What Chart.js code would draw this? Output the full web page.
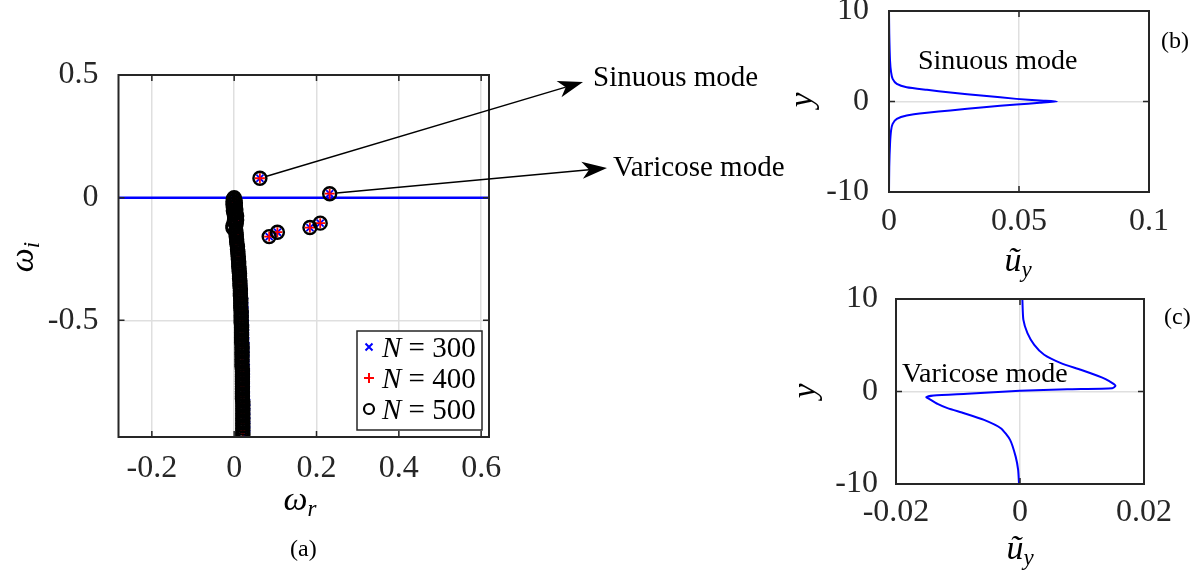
<!DOCTYPE html>
<html>
<head>
<meta charset="utf-8">
<script src="https://cdn.jsdelivr.net/npm/chart.js@4.4.1/dist/chart.umd.min.js"></script>
<style>
  html, body { margin: 0; padding: 0; background: #fff; }
  #wrap { position: relative; width: 1196px; height: 575px; overflow: hidden; }
  canvas { position: absolute; }
</style>
</head>
<body>
<div id="wrap">
  <canvas id="spectrum" width="790" height="575" style="left:0;top:0"></canvas>
  <canvas id="sinuous" width="406" height="285" style="left:790px;top:0"></canvas>
  <canvas id="varicose" width="406" height="290" style="left:790px;top:285px"></canvas>
</div>
<script>
const SERIF = "'Liberation Serif', 'Times New Roman', serif";
const INK = '#262626';
const GRID = '#dfdfdf';

// discrete modes, identical for all three resolutions (sinuous, varicose, then the rest)
const modeWr = [0.0625, 0.232, 0.085, 0.105, 0.184, 0.209];
const modeWi = [0.079, 0.016, -0.159, -0.141, -0.122, -0.104];

// continuous branch [wr, wi]
const branch500 = [
  [0.000, 0.000], [-0.002, -0.005], [0.002, -0.010], [-0.003, -0.016], [0.003, -0.022], [-0.003, -0.028],
  [0.003, -0.034], [-0.002, -0.040], [0.004, -0.047], [-0.002, -0.054], [0.004, -0.061], [0.000, -0.068],
  [0.006, -0.075], [0.001, -0.083], [0.006, -0.091], [0.000, -0.099], [0.005, -0.107], [-0.003, -0.115],
  [-0.003, -0.124], [0.004, -0.133], [0.004, -0.142], [0.005, -0.151], [0.005, -0.160], [0.006, -0.170],
  [0.006, -0.180], [0.007, -0.190], [0.008, -0.200], [0.008, -0.210], [0.009, -0.220], [0.009, -0.230],
  [0.010, -0.240], [0.010, -0.250], [0.011, -0.260], [0.011, -0.270], [0.011, -0.280], [0.012, -0.290],
  [0.012, -0.300], [0.013, -0.310], [0.013, -0.320], [0.013, -0.330], [0.014, -0.340], [0.014, -0.350],
  [0.014, -0.360], [0.015, -0.370], [0.015, -0.380], [0.015, -0.390], [0.015, -0.400], [0.016, -0.410],
  [0.016, -0.420], [0.016, -0.430], [0.016, -0.440], [0.016, -0.450], [0.017, -0.460], [0.017, -0.470],
  [0.017, -0.480], [0.017, -0.490], [0.017, -0.500], [0.017, -0.510], [0.018, -0.520], [0.018, -0.530],
  [0.018, -0.540], [0.018, -0.550], [0.018, -0.560], [0.018, -0.570], [0.018, -0.580], [0.018, -0.590],
  [0.019, -0.600], [0.019, -0.610], [0.019, -0.620], [0.019, -0.630], [0.019, -0.640], [0.019, -0.650],
  [0.019, -0.660], [0.019, -0.670], [0.019, -0.680], [0.019, -0.690], [0.020, -0.700], [0.020, -0.710],
  [0.020, -0.720], [0.020, -0.730], [0.020, -0.740], [0.020, -0.750], [0.020, -0.760], [0.020, -0.770],
  [0.020, -0.780], [0.020, -0.790], [0.020, -0.800], [0.020, -0.810], [0.020, -0.820], [0.021, -0.830],
  [0.021, -0.840], [0.021, -0.850], [0.021, -0.860], [0.021, -0.870], [0.021, -0.880], [0.021, -0.890],
  [0.021, -0.900], [0.021, -0.910], [0.021, -0.920], [0.021, -0.930], [0.021, -0.940], [0.021, -0.950],
  [0.021, -0.960], [0.021, -0.968]
];
const branch400 = [
  [0.000, -0.002], [-0.002, -0.012], [0.002, -0.024], [-0.002, -0.036], [0.003, -0.048], [0.000, -0.060],
  [0.005, -0.072], [0.001, -0.084], [0.005, -0.096], [-0.002, -0.110], [0.003, -0.124], [0.004, -0.138],
  [0.005, -0.152], [0.006, -0.166], [0.006, -0.180], [0.007, -0.194], [0.008, -0.208], [0.009, -0.222],
  [0.010, -0.236], [0.010, -0.250], [0.011, -0.264], [0.011, -0.278], [0.012, -0.292], [0.012, -0.306],
  [0.013, -0.320], [0.013, -0.334], [0.014, -0.348], [0.014, -0.362], [0.015, -0.376], [0.015, -0.390],
  [0.015, -0.404], [0.016, -0.418], [0.016, -0.432], [0.016, -0.446], [0.017, -0.460], [0.017, -0.474],
  [0.017, -0.488], [0.017, -0.502], [0.018, -0.516], [0.018, -0.530], [0.018, -0.544], [0.018, -0.558],
  [0.018, -0.572], [0.018, -0.586], [0.019, -0.600], [0.019, -0.614], [0.019, -0.628], [0.019, -0.642],
  [0.019, -0.656], [0.019, -0.670], [0.019, -0.684], [0.020, -0.698], [0.020, -0.712], [0.020, -0.726],
  [0.020, -0.740], [0.020, -0.754], [0.020, -0.768], [0.020, -0.782], [0.020, -0.796], [0.020, -0.810],
  [0.021, -0.824], [0.021, -0.838], [0.021, -0.852], [0.021, -0.866], [0.021, -0.880], [0.021, -0.894],
  [0.021, -0.908], [0.021, -0.922], [0.021, -0.936], [0.021, -0.950], [0.021, -0.964]
];
const branch300 = [
  [0.000, -0.003], [0.002, -0.018], [0.000, -0.034], [0.004, -0.050], [0.003, -0.066], [0.006, -0.082],
  [0.004, -0.098], [0.004, -0.116], [0.006, -0.134], [0.007, -0.152], [0.008, -0.170], [0.009, -0.188],
  [0.011, -0.206], [0.012, -0.224], [0.014, -0.242], [0.015, -0.260], [0.017, -0.278], [0.018, -0.296],
  [0.020, -0.314], [0.021, -0.332], [0.022, -0.350], [0.023, -0.368], [0.024, -0.386], [0.024, -0.404],
  [0.025, -0.422], [0.025, -0.440], [0.026, -0.458], [0.026, -0.476], [0.026, -0.494], [0.027, -0.512],
  [0.027, -0.530], [0.027, -0.548], [0.027, -0.566], [0.028, -0.584], [0.028, -0.602], [0.028, -0.620],
  [0.028, -0.638], [0.028, -0.656], [0.028, -0.674], [0.029, -0.692], [0.029, -0.710], [0.029, -0.728],
  [0.029, -0.746], [0.029, -0.764], [0.029, -0.782], [0.029, -0.800], [0.029, -0.818], [0.030, -0.836],
  [0.030, -0.854], [0.030, -0.872], [0.030, -0.890], [0.030, -0.908], [0.030, -0.926], [0.030, -0.944],
  [0.030, -0.962]
];

const wrRange = [-0.281, 0.619];
const wiRange = [-0.976, 0.5];
const wrTicks = [-0.2, 0, 0.2, 0.4, 0.6];
const wrTickLabels = ['-0.2', '0', '0.2', '0.4', '0.6'];
const wiTicks = [-0.5, 0, 0.5];
const wiTickLabels = ['-0.5', '0', '0.5'];

// eigenfunction of the sinuous mode
const ySin = [10, 7.5, 4.5, 3.24, 2.5, 1.95, 1.58, 1.29, 0.99, 0.63, 0.29, 0.11, 0,
  -0.15, -0.33, -0.63, -0.99, -1.25, -1.55, -1.92, -2.47, -3.2, -4.68, -7.26, -10];
const uSin = [0, 0.0001, 0.0004, 0.0008, 0.0014, 0.003, 0.0068, 0.0146, 0.0236, 0.0365, 0.049, 0.058, 0.0646,
  0.058, 0.049, 0.0365, 0.0236, 0.0146, 0.0068, 0.003, 0.0014, 0.0008, 0.0004, 0.0001, 0];
const uSinRange = [0, 0.1];
const uSinTicks = [0, 0.05, 0.1];
const uSinTickLabels = ['0', '0.05', '0.1'];

// eigenfunction of the varicose mode
const yVar = [10, 7.76, 6.32, 5.05, 3.97, 3.07, 2.35, 1.7, 1.34, 0.9, 0.61, 0.36, 0.25, 0.07,
  -0.25, -0.43, -0.61, -0.9, -1.34, -1.8, -2.35, -3.07, -3.97, -5.23, -7.04, -8.48, -10];
const uVar = [0.00038, 0.00054, 0.0012, 0.0023, 0.0039, 0.0066, 0.0098, 0.0125, 0.0138, 0.0149, 0.0154, 0.0149, 0.0076, 0,
  -0.0085, -0.0139, -0.0151, -0.0144, -0.0133, -0.0117, -0.009, -0.0058, -0.0031, -0.0016, -0.0007, -0.0003, -0.00016];
const uVarRange = [-0.02, 0.02];
const uVarTicks = [-0.02, 0, 0.02];
const uVarTickLabels = ['-0.02', '0', '0.02'];

const yRange = [-10, 10];
const yTicks = [-10, 0, 10];
const yTickLabels = ['-10', '0', '10'];

const pts = (xs, ys) => xs.map((x, i) => ({ x, y: ys[i] }));
const pairs = arr => arr.map(p => ({ x: p[0], y: p[1] }));

function axis(range, ticks, labels, size, pad) {
  return {
    type: 'linear',
    min: range[0],
    max: range[1],
    afterBuildTicks: s => { s.ticks = ticks.map(v => ({ value: v })); },
    afterFit: s => {
      Object.assign(s, size);
      s.paddingLeft = s.paddingRight = s.paddingTop = s.paddingBottom = 0;
    },
    ticks: {
      autoSkip: false, maxRotation: 0, padding: pad,
      color: INK, font: { family: SERIF, size: 32 },
      callback: (v, i) => labels[i]
    },
    grid: { color: GRID, lineWidth: 1.5, drawTicks: false },
    border: { display: false }
  };
}

function font(size, italic) {
  return (italic ? 'italic ' : '') + size + 'px ' + SERIF;
}

// parts: [text, size, italic, dy]
function rich(ctx, parts, x, y, align) {
  let w = 0;
  parts.forEach(p => { ctx.font = font(p[1], p[2]); w += ctx.measureText(p[0]).width; });
  let cx = align === 'center' ? x - w / 2 : x;
  ctx.textBaseline = 'alphabetic';
  ctx.textAlign = 'left';
  parts.forEach(p => {
    ctx.font = font(p[1], p[2]);
    ctx.fillText(p[0], cx, y + (p[3] || 0));
    cx += ctx.measureText(p[0]).width;
  });
}

function rotated(ctx, parts, x, y) {
  ctx.save();
  ctx.translate(x, y);
  ctx.rotate(-Math.PI / 2);
  rich(ctx, parts, 0, 0, 'center');
  ctx.restore();
}

function plainText(ctx, text, size, x, y) {
  ctx.font = font(size, false);
  ctx.textAlign = 'left';
  ctx.textBaseline = 'middle';
  ctx.fillText(text, x, y);
}

function arrow(ctx, x0, y0, x1, y1) {
  const a = Math.atan2(y1 - y0, x1 - x0);
  const c = Math.cos(a), s = Math.sin(a);
  const len = 25, half = 8.5, notch = 18;
  const sx = x0 + 7 * c, sy = y0 + 7 * s;
  ctx.beginPath();
  ctx.moveTo(sx, sy);
  ctx.lineTo(x1 - notch * c, y1 - notch * s);
  ctx.lineWidth = 1.5;
  ctx.stroke();
  ctx.beginPath();
  ctx.moveTo(x1, y1);
  ctx.lineTo(x1 - len * c - half * s, y1 - len * s + half * c);
  ctx.lineTo(x1 - notch * c, y1 - notch * s);
  ctx.lineTo(x1 - len * c + half * s, y1 - len * s - half * c);
  ctx.closePath();
  ctx.fill();
}

// MATLAB-style box with inward ticks
const axesBox = {
  id: 'axesBox',
  afterDraw(chart) {
    const { ctx, chartArea: a } = chart;
    const { x, y } = chart.scales;
    ctx.save();
    ctx.strokeStyle = INK;
    ctx.lineWidth = 1.5;
    ctx.beginPath();
    x.ticks.forEach(t => {
      const px = x.getPixelForValue(t.value);
      ctx.moveTo(px, a.bottom); ctx.lineTo(px, a.bottom - 6);
      ctx.moveTo(px, a.top); ctx.lineTo(px, a.top + 6);
    });
    y.ticks.forEach(t => {
      const py = y.getPixelForValue(t.value);
      ctx.moveTo(a.left, py); ctx.lineTo(a.left + 6, py);
      ctx.moveTo(a.right, py); ctx.lineTo(a.right - 6, py);
    });
    ctx.stroke();
    ctx.lineWidth = 2;
    ctx.strokeRect(a.left, a.top, a.right - a.left, a.bottom - a.top);
    ctx.restore();
  }
};

const spectrumLabels = {
  id: 'spectrumLabels',
  afterDraw(chart) {
    const { ctx } = chart;
    const { x, y } = chart.scales;
    ctx.save();
    ctx.fillStyle = '#000';
    ctx.strokeStyle = '#000';

    // arrows from the two unstable modes to their names
    arrow(ctx, x.getPixelForValue(modeWr[0]), y.getPixelForValue(modeWi[0]), 583, 82);
    arrow(ctx, x.getPixelForValue(modeWr[1]), y.getPixelForValue(modeWi[1]), 607, 168);
    plainText(ctx, 'Sinuous mode', 29, 593, 78);
    plainText(ctx, 'Varicose mode', 29, 613, 168);

    // legend
    const lx = 357, ly = 331, lw = 125, lh = 99;
    ctx.fillStyle = '#fff';
    ctx.fillRect(lx, ly, lw, lh);
    ctx.strokeStyle = INK;
    ctx.lineWidth = 1.5;
    ctx.strokeRect(lx, ly, lw, lh);
    const rows = [347, 378, 409];
    ctx.lineWidth = 2;
    ctx.strokeStyle = '#0000ff';
    ctx.beginPath();
    ctx.moveTo(365.5, rows[0] - 3.5); ctx.lineTo(372.5, rows[0] + 3.5);
    ctx.moveTo(372.5, rows[0] - 3.5); ctx.lineTo(365.5, rows[0] + 3.5);
    ctx.stroke();
    ctx.strokeStyle = '#ff0000';
    ctx.beginPath();
    ctx.moveTo(364, rows[1]); ctx.lineTo(374, rows[1]);
    ctx.moveTo(369, rows[1] - 5); ctx.lineTo(369, rows[1] + 5);
    ctx.stroke();
    ctx.strokeStyle = '#000';
    ctx.lineWidth = 2.2;
    ctx.beginPath();
    ctx.arc(369, rows[2], 5, 0, Math.PI * 2);
    ctx.stroke();
    ctx.fillStyle = '#000';
    ['300', '400', '500'].forEach((n, i) => {
      rich(ctx, [['N', 29, true], [' = ' + n, 29, false]], 382, rows[i] + 10, 'left');
    });

    // axis titles and panel tag
    rich(ctx, [['ω', 34, true], ['r', 23, true, 6]], 300, 510, 'center');
    rotated(ctx, [['ω', 34, true], ['i', 23, true, 6]], 33, 257);
    plainText(ctx, '(a)', 24, 290, 550);
    ctx.restore();
  }
};

function profileLabels(id, modeName, nameX, nameY, tag, tagX, tagY, yX, yY, uX, uY) {
  return {
    id,
    afterDraw(chart) {
      const { ctx } = chart;
      ctx.save();
      ctx.fillStyle = '#000';
      plainText(ctx, modeName, 28, nameX, nameY);
      plainText(ctx, tag, 24, tagX, tagY);
      rotated(ctx, [['y', 33, true]], yX, yY);
      rich(ctx, [['ũ', 34, true], ['y', 23, true, 6]], uX, uY, 'center');
      ctx.restore();
    }
  };
}

const base = {
  responsive: false,
  animation: false,
  events: [],
  plugins: { legend: { display: false }, tooltip: { enabled: false } }
};

new Chart(document.getElementById('spectrum'), {
  type: 'scatter',
  data: {
    datasets: [
      {
        label: 'N = 500', data: pairs(branch500).concat(pts(modeWr, modeWi)), order: 1,
        pointStyle: 'circle', pointRadius: 6.5, borderWidth: 2.4,
        borderColor: '#000', backgroundColor: 'rgba(0,0,0,0)'
      },
      {
        label: 'N = 400', data: pairs(branch400).concat(pts(modeWr, modeWi)), order: 2,
        pointStyle: 'cross', pointRadius: 5, borderWidth: 1.8,
        borderColor: '#ff0000', backgroundColor: '#ff0000'
      },
      {
        label: 'N = 300', data: pairs(branch300).concat(pts(modeWr, modeWi)), order: 3,
        pointStyle: 'crossRot', pointRadius: 5, borderWidth: 1.8,
        borderColor: '#0000ff', backgroundColor: '#0000ff'
      },
      {
        label: 'zero', data: pts(wrRange, [0, 0]), order: 4, showLine: true,
        pointRadius: 0, borderColor: '#0000ff', borderWidth: 2.5
      }
    ]
  },
  options: {
    ...base,
    layout: { padding: { left: 0, top: 75, right: 301, bottom: 0 } },
    scales: {
      x: axis(wrRange, wrTicks, wrTickLabels, { height: 138 }, 12),
      y: axis(wiRange, wiTicks, wiTickLabels, { width: 118.5 }, 20)
    }
  },
  plugins: [axesBox, spectrumLabels]
});

new Chart(document.getElementById('sinuous'), {
  type: 'scatter',
  data: {
    datasets: [{
      data: pts(uSin, ySin), showLine: true, pointRadius: 0,
      borderColor: '#0000ff', borderWidth: 2, tension: 0.2
    }]
  },
  options: {
    ...base,
    layout: { padding: { left: 0, top: 11, right: 47, bottom: 0 } },
    scales: {
      x: axis(uSinRange, uSinTicks, uSinTickLabels, { height: 93 }, 10),
      y: axis(yRange, yTicks, yTickLabels, { width: 99 }, 20)
    }
  },
  plugins: [axesBox, profileLabels('sinLabels', 'Sinuous mode', 128, 62, '(b)', 371, 42, 22, 100, 228, 271)]
});

new Chart(document.getElementById('varicose'), {
  type: 'scatter',
  data: {
    datasets: [{
      data: pts(uVar, yVar), showLine: true, pointRadius: 0,
      borderColor: '#0000ff', borderWidth: 2, tension: 0.2
    }]
  },
  options: {
    ...base,
    layout: { padding: { left: 0, top: 14, right: 52, bottom: 0 } },
    scales: {
      x: axis(uVarRange, uVarTicks, uVarTickLabels, { height: 91 }, 9),
      y: axis(yRange, yTicks, yTickLabels, { width: 106 }, 18)
    }
  },
  plugins: [axesBox, profileLabels('varLabels', 'Varicose mode', 112, 90, '(c)', 374, 33, 25, 106, 230, 274)]
});
</script>
</body>
</html>
